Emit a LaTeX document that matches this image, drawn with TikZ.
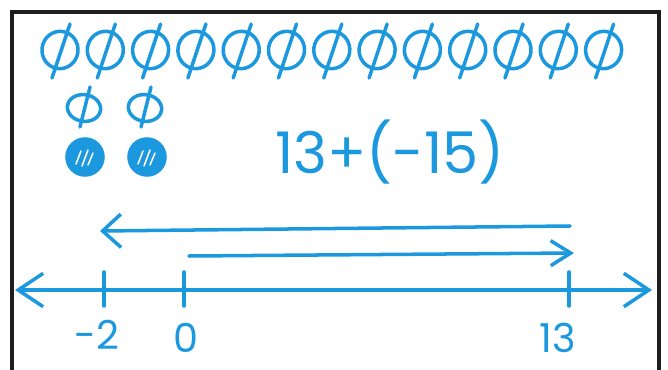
\documentclass[tikz,border=0pt]{standalone}
\usepackage{fontspec}
\setmainfont{Poppins}
\usepackage{tikz}
\usetikzlibrary{arrows.meta,shapes.geometric}
\definecolor{markerblue}{RGB}{28,152,222}
\definecolor{framegray}{RGB}{30,30,30}

\begin{document}
\begin{tikzpicture}[
  x=0.03cm, y=-0.03cm,
  every node/.style={text=markerblue, inner sep=0pt},
  ink/.style={draw=markerblue, line width=3pt, line cap=round, line join=round},
  zerochip/.style={ellipse, draw=markerblue, line width=3pt,
    minimum width=1.08cm, minimum height=1.12cm, rotate=-8},
  smallchip/.style={ellipse, draw=markerblue, line width=3pt,
    minimum width=1.0cm, minimum height=0.8cm, rotate=-8},
  negchip/.style={circle, draw=markerblue, fill=markerblue, line width=1pt,
    minimum size=1.15cm},
  hatch/.style={draw=white, line width=1.3pt, line cap=round},
  numline/.style={ink, {Straight Barb[length=7.5mm,width=10mm]}-{Straight Barb[length=7.5mm,width=10mm]}},
  jumpL/.style={ink, -{Straight Barb[length=5.5mm,width=10mm]}},
  jumpR/.style={ink, -{Straight Barb[length=6mm,width=7.5mm]}},
  numlbl/.style={font=\fontsize{34}{34}\selectfont},
  sumlbl/.style={font=\fontsize{49}{49}\selectfont},
]
\useasboundingbox (0,0) rectangle (668,370);

% frame
\draw[framegray, line width=2.6pt] (12,380) -- (12,12) -- (659,12) -- (659,380);

% thirteen positive chips
\foreach \i in {0,...,12}{
  \pgfmathsetmacro\zx{60+45.3*\i}
  \node[zerochip] (zt\i) at (\zx,50) {};
  \draw[ink] (zt\i.center) ++(-8,28) -- ++(18,-54);
}

% two more, then two negatives
\node[smallchip] (zs1) at (84,108) {};
\node[smallchip] (zs2) at (145,108) {};
\foreach \n in {zs1,zs2}
  \draw[ink] (\n.center) ++(-4,19) -- ++(10,-40);

\node[negchip] (zn1) at (85,157) {};
\node[negchip] (zn2) at (147,157) {};
\foreach \n in {zn1,zn2}{
  \draw[hatch] (\n.center) ++(-9,7) -- ++(5,-13);
  \draw[hatch] (\n.center) ++(-3,9) -- ++(6,-16);
  \draw[hatch] (\n.center) ++(3,8) -- ++(5,-12);
}

\node[sumlbl] (sum) at (390,152) {13+(-15)};

% jumps
\coordinate (from13) at (570,226);
\coordinate (tom2)   at (100,231);
\coordinate (start0) at (189,256);
\coordinate (end13)  at (574,253);
\draw[jumpL] (from13) -- (tom2);
\draw[jumpR] (start0) -- (end13);

% number line
\coordinate (lineW) at (15,290);
\coordinate (lineE) at (652,290);
\draw[numline] (lineW) -- (lineE);
\coordinate (tkm2) at (104,289);
\coordinate (tk0)  at (184,289);
\coordinate (tk13) at (569,289);
\foreach \t in {tkm2,tk0,tk13}
  \draw[ink] (\t) ++(0,-17) -- ++(0,34);

\node[numlbl] (lblm2) at (97,335) {-2};
\node[numlbl] (lbl0)  at (186,338) {0};
\node[numlbl] (lbl13) at (558,338) {13};
\end{tikzpicture}
\end{document}
